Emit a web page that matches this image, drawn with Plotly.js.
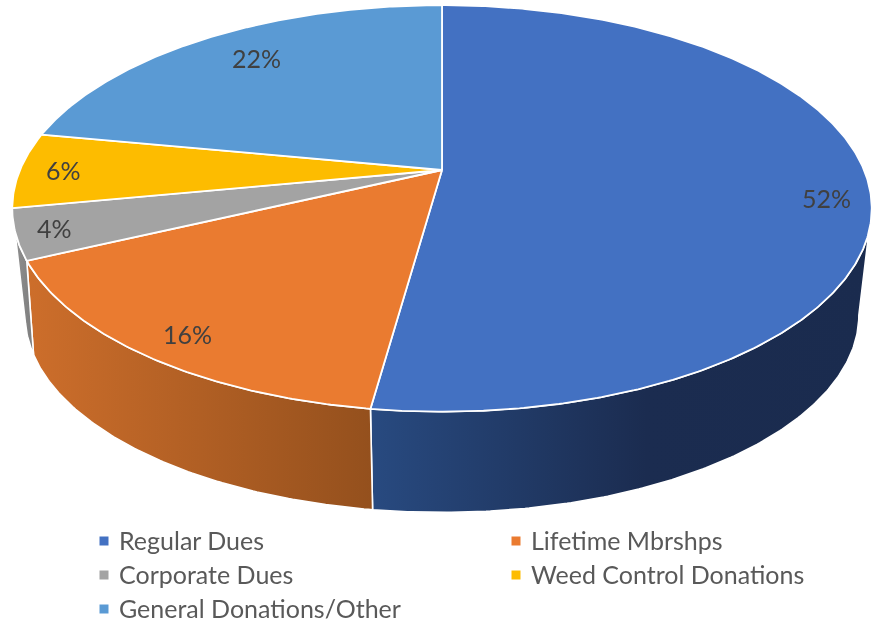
<!DOCTYPE html>
<html>
<head>
<meta charset="utf-8">
<script src="https://cdn.plot.ly/plotly-3.0.1.min.js"></script>
<style>html,body{margin:0;padding:0;background:#fff}#chart{width:871px;height:623px;filter:blur(0.45px)}</style>
</head>
<body>
<div id="chart"></div>
<script>
// Data
const categories = ["Regular Dues","Lifetime Mbrshps","Corporate Dues","Weed Control Donations","General Donations/Other"];
const shares = [52.2, 15.8, 4, 6, 22];
const shownLabels = ["52%","16%","4%","6%","22%"];

// Styles
const topColors = ["#4371c2","#ea7b30","#a3a3a3","#fdbc00","#5a9ad4"];
const wallScales = [
  [[0,"#284a80"],[0.55,"#1b2c50"],[1,"#1a2b4e"]],
  [[0,"#cd6e2b"],[1,"#94501d"]],
  [[0,"#8f8f8f"],[1,"#7d7d7d"]]
];

// Tilted-disc projection
const view = {cx:442, cy:170, rx:422, ry:196, tilt:0.189, depthScale:0.97, baseCy:278, stretchFrom:205, stretch:0.08};
function project(deg, base){
  const d0 = base && deg>view.stretchFrom ? deg+(deg-view.stretchFrom)*view.stretch : deg;
  const a = d0*Math.PI/180, u = Math.sin(a), v = -Math.cos(a), d = 1 - view.tilt*v;
  const s = base ? view.depthScale : 1;
  return [view.cx + s*view.rx*u/d, (base?view.baseCy:view.cy) + s*view.ry*v/d];
}
function arc(from,to,base){
  const n = Math.max(2,Math.ceil(Math.abs(to-from)/0.5)), pts=[];
  for(let i=0;i<=n;i++) pts.push(project(from+(to-from)*i/n,base));
  return pts;
}
const visibleFrom = 100.9, visibleTo = 253;
const traces = [];
let acc = 0;
const total = shares.reduce((a,b)=>a+b,0);
const spans = shares.map(s=>{const r=[acc/total*360,(acc+s)/total*360];acc+=s;return r;});

// Side walls
spans.forEach((sp,i)=>{
  const from = Math.max(sp[0],visibleFrom), to = Math.min(sp[1],visibleTo);
  if(to<=from) return;
  const pts = arc(from,to,false).concat(arc(to,from,true));
  pts.push(pts[0]);
  const xs = pts.map(p=>p[0]);
  const lo = Math.min(...xs), hi = Math.max(...xs);
  traces.push({type:"scatter",mode:"lines",x:xs,y:pts.map(p=>p[1]),fill:"toself",
    fillgradient:{type:"horizontal",start:lo,stop:hi,colorscale:wallScales[i]},
    line:{color:"#ffffff",width:1.6},hoverinfo:"skip",showlegend:false});
});
// Top faces
spans.forEach((sp,i)=>{
  const pts = [[view.cx,view.cy]].concat(arc(sp[0],sp[1],false));
  pts.push(pts[0]);
  traces.push({type:"scatter",mode:"lines",x:pts.map(p=>p[0]),y:pts.map(p=>p[1]),fill:"toself",
    fillcolor:topColors[i],line:{color:"#ffffff",width:1.8},name:categories[i],
    hoverinfo:"name",showlegend:false});
});

// Percent labels and legend placement
const labelAt = [[826,198],[187,334],[54,228],[63,170],[256,58]];
const legendAt = [[104,541],[516,541],[104,575],[516,575],[104,609]];
const annotations = shownLabels.map((t,i)=>({text:t,x:labelAt[i][0],y:labelAt[i][1],xref:"x",yref:"y",
  showarrow:false,font:{family:"Lato, sans-serif",size:25,color:"#404040"}}));
categories.forEach((c,i)=>{
  traces.push({type:"scatter",mode:"markers",x:[legendAt[i][0]],y:[legendAt[i][1]],name:c,
    marker:{symbol:"square",size:9,color:topColors[i]},hoverinfo:"name",showlegend:false});
  annotations.push({text:c,x:legendAt[i][0]+13,y:legendAt[i][1]-1,xref:"x",yref:"y",xanchor:"left",
    showarrow:false,font:{family:"Lato, sans-serif",size:25,color:"#595959"}});
});

Plotly.newPlot("chart",traces,{
  width:871,height:623,margin:{l:0,r:0,t:0,b:0},
  paper_bgcolor:"#fff",plot_bgcolor:"#fff",showlegend:false,
  xaxis:{range:[0,871],visible:false,fixedrange:true},
  yaxis:{range:[623,0],visible:false,fixedrange:true},
  annotations:annotations
},{displayModeBar:false,staticPlot:true});
</script>
</body>
</html>
